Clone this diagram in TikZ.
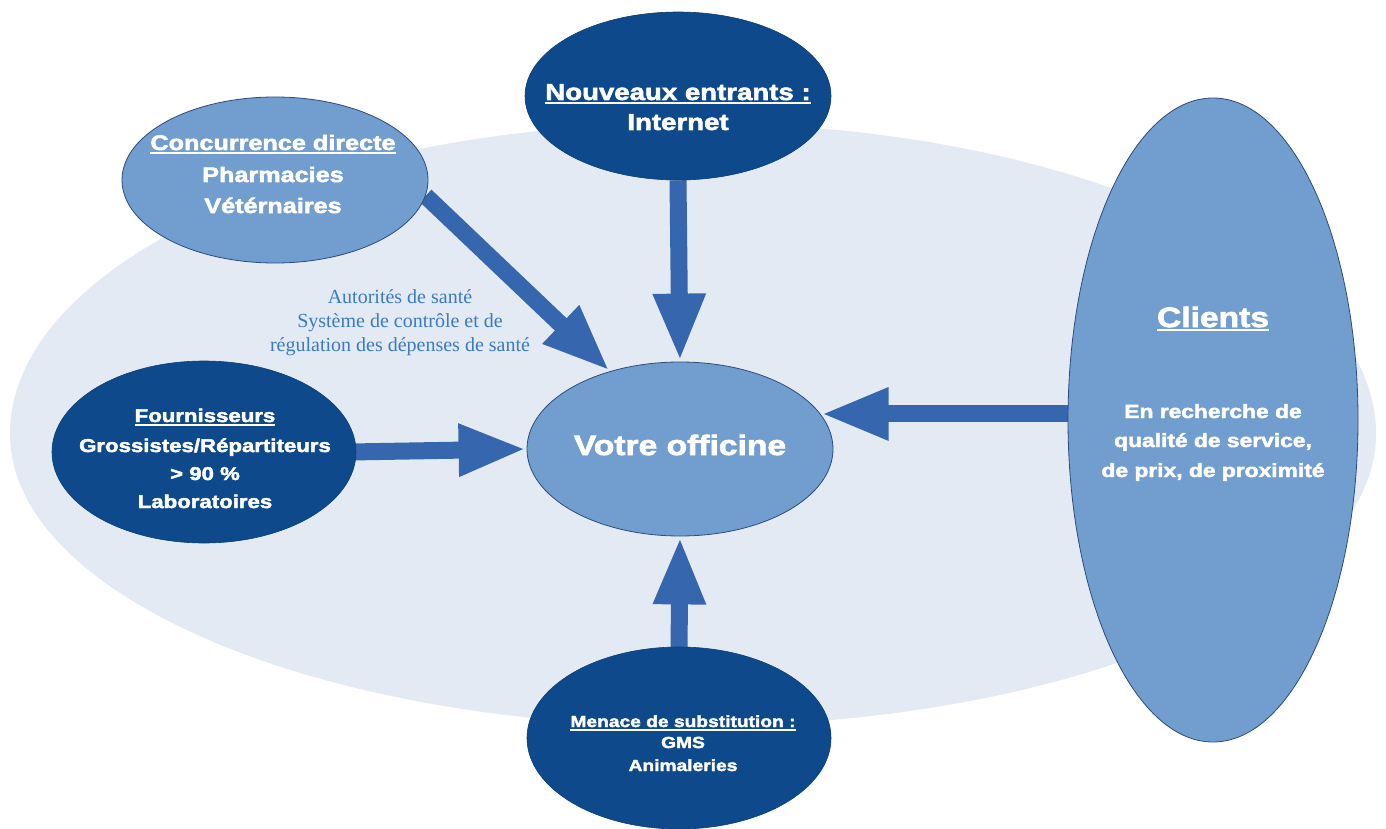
\documentclass[tikz,border=0pt]{standalone}
\usepackage{fontspec}
\usetikzlibrary{shapes.geometric,arrows.meta}
\newfontfamily\hv{Liberation Sans}[UprightFont={* Bold}, UprightFeatures={FakeBold=2.5}, FakeStretch=1.2]
\newfontfamily\sr{Liberation Serif}
\definecolor{bgc}{RGB}{227,234,244}
\definecolor{midc}{RGB}{113,157,207}
\definecolor{darkc}{RGB}{13,73,139}
\definecolor{arrc}{RGB}{54,102,174}
\definecolor{edgec}{RGB}{45,75,125}
\definecolor{serc}{RGB}{58,122,198}
\newcommand\ulx[1]{\setbox0=\hbox{#1}\rlap{\rule[-4pt]{\wd0}{1.6pt}}\box0}
\newcommand\hvs[1]{\hv\fontsize{#1}{#1}\selectfont}
\pgfdeclarelayer{bgl}
\pgfdeclarelayer{arl}
\pgfsetlayers{bgl,arl,main}
\tikzset{
  midell/.style={ellipse, fill=midc, draw=edgec, line width=0.8pt, inner sep=0pt},
  darkell/.style={ellipse, fill=darkc, draw=darkc!85!black, line width=0.6pt, inner sep=0pt},
  wt/.style={text=white, anchor=base, inner sep=0pt},
  bigarrow/.style={draw=arrc, line width=17pt, -{Triangle[length=68pt,width=48pt]}},
  sertxt/.style={text=serc, anchor=base, inner sep=0pt, font=\sr\fontsize{20}{24}\selectfont}
}
\begin{document}
\begin{tikzpicture}[x=1pt,y=-1pt]
\useasboundingbox (0,0) rectangle (1386,829);
\begin{pgfonlayer}{bgl}
\fill[white] (0,0) rectangle (1386,829);
\fill[bgc] (10,434) arc[start angle=180, end angle=0, x radius=683, y radius=292]
  arc[start angle=0, end angle=-180, x radius=683, y radius=311] -- cycle;
\end{pgfonlayer}

% ellipses
\node[midell, minimum width=306pt, minimum height=166pt] (conc) at (275,180) {};
\node[darkell, minimum width=306pt, minimum height=168pt] (nouv) at (678,96) {};
\node[midell, minimum width=306pt, minimum height=174pt] (vo) at (680,449) {};
\node[darkell, minimum width=304pt, minimum height=182pt] (four) at (204,452) {};
\node[midell, minimum width=290pt, minimum height=644pt] (cli) at (1213,420) {};
\node[darkell, minimum width=304pt, minimum height=182pt] (men) at (679,738) {};

% arrows
\begin{pgfonlayer}{arl}
\draw[bigarrow] (conc.-6) -- (vo.132);
\draw[bigarrow] (nouv.south) -- (vo.north);
\draw[bigarrow] ([xshift=-6pt]four.east) -- (vo.west);
\draw[bigarrow] ([xshift=6pt]cli.west |- vo.14) -- (vo.14);
\draw[bigarrow] ([yshift=-6pt]men.north) -- (vo.south);
\end{pgfonlayer}

% texts
\node[wt, font=\hvs{21}] (c1) at (273,150) {\ulx{Concurrence directe}};
\node[wt, font=\hvs{21}] (c2) at (273,182) {Pharmacies};
\node[wt, font=\hvs{21}] (c3) at (273,213) {Vétérnaires};

\node[wt, font=\hvs{23}] (n1) at (678,100) {\ulx{Nouveaux entrants :}};
\node[wt, font=\hvs{23}] (n2) at (678,130) {Internet};

\node[wt, font=\hvs{28}] (v1) at (680,455) {Votre officine};

\node[wt, font=\hvs{18.5}] (f1) at (205,422) {\ulx{Fournisseurs}};
\node[wt, font=\hvs{18.5}] (f2) at (205,452) {Grossistes/Répartiteurs};
\node[wt, font=\hvs{18.5}] (f3) at (205,480) {> 90 \%};
\node[wt, font=\hvs{18.5}] (f4) at (205,508) {Laboratoires};

\node[wt, font=\hvs{28}] (k1) at (1213,327) {\ulx{Clients}};
\node[wt, font=\hvs{19}] (k2) at (1213,418) {En recherche de};
\node[wt, font=\hvs{19}] (k3) at (1213,447) {qualité de service,};
\node[wt, font=\hvs{19}] (k4) at (1213,477) {de prix, de proximité};

\node[wt, font=\hvs{16}] (m1) at (683,727) {\ulx{Menace de substitution :}};
\node[wt, font=\hvs{16}] (m2) at (683,748) {GMS};
\node[wt, font=\hvs{16}] (m3) at (683,771) {Animaleries};

\node[sertxt] (s1) at (400,303) {Autorités de santé};
\node[sertxt] (s2) at (400,327) {Système de contrôle et de};
\node[sertxt] (s3) at (400,351) {régulation des dépenses de santé};
\end{tikzpicture}
\end{document}
